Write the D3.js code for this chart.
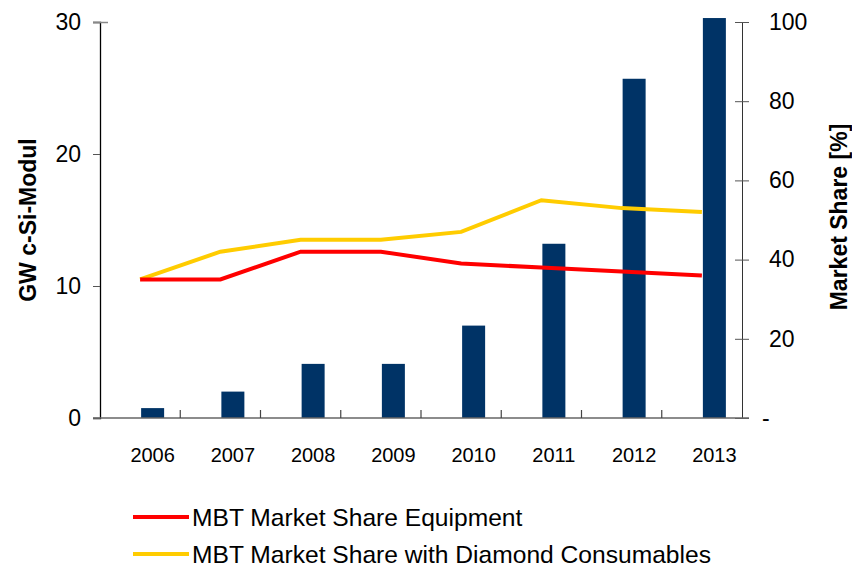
<!DOCTYPE html>
<html>
<head>
<meta charset="utf-8">
<script src="https://cdn.jsdelivr.net/npm/d3@7"></script>
<style>
  body { margin: 0; background: #fff; }
  text { font-family: Arial, "Liberation Sans", sans-serif; fill: #000; }
</style>
</head>
<body>
<script>
'use strict';

// chart data
const years = ['2006', '2007', '2008', '2009', '2010', '2011', '2012', '2013'];
const gwModules = [0.75, 2.0, 4.1, 4.1, 7.0, 13.2, 25.7, 30.3]; // GW c-Si-Modul (bars)
const shareEquipment = [35, 35, 42, 42, 39, 38, 37, 36];        // % red line
const shareDiamond = [35, 42, 45, 45, 47, 55, 53, 52];          // % yellow line
const leftTicks = [0, 10, 20, 30];
const rightTicks = [0, 20, 40, 60, 80, 100];
const legendNames = ['MBT Market Share Equipment', 'MBT Market Share with Diamond Consumables'];

(function() {

  let svgContainer = "";

  window.onload = function() {
    svgContainer = d3.select('body')
      .append('svg')
      .attr('width', 852)
      .attr('height', 567);
    drawChart();
  }

  function drawChart() {
    let left = 100, right = 742, top = 22, bottom = 418;

    // band scale for the years, linear scales for both y axes
    let xScale = d3.scaleBand()
      .domain(years)
      .range([left, right])
      .padding(0);
    let yLeft = d3.scaleLinear().domain([0, 30]).range([bottom, top]);
    let yRight = d3.scaleLinear().domain([0, 100]).range([bottom, top]);

    let bw = xScale.bandwidth();
    let barWidth = 23;

    // bars start at the band centre (empty second series slot)
    svgContainer.selectAll('.bar')
      .data(years)
      .enter()
      .append('rect')
        .attr('class', 'bar')
        .attr('x', (d) => xScale(d) + bw / 2 + 1)
        .attr('y', (d, i) => yLeft(gwModules[i]))
        .attr('width', barWidth)
        .attr('height', (d, i) => bottom - yLeft(gwModules[i]))
        .attr('fill', '#003366');

    // left axis
    let leftAxis = d3.axisLeft(yLeft).tickValues(leftTicks).tickSize(7).tickPadding(12);
    let gl = svgContainer.append('g')
      .attr('transform', 'translate(' + left + ',0)')
      .call(leftAxis);
    gl.select('.domain').attr('stroke', '#000').attr('stroke-width', 1.3);
    gl.selectAll('.tick line').attr('stroke', '#555');
    gl.selectAll('.tick text').attr('font-size', 23).attr('font-family', 'Arial, "Liberation Sans", sans-serif');
    // the top tick crosses the axis
    gl.selectAll('.tick line').filter((d) => d === 30).attr('x2', 8).attr('x1', -7).attr('stroke', '#888').attr('stroke-width', 1.5);

    // right axis, zero shown as dash
    let rightAxis = d3.axisRight(yRight)
      .tickValues(rightTicks)
      .tickSize(7)
      .tickPadding(20)
      .tickFormat((d) => d === 0 ? '-' : d);
    let gr = svgContainer.append('g')
      .attr('transform', 'translate(' + right + ',0)')
      .call(rightAxis);
    gr.select('.domain').attr('stroke', '#333').attr('stroke-width', 1);
    gr.selectAll('.tick line').attr('x1', -7).attr('stroke', '#555');
    gr.selectAll('.tick text').attr('font-size', 23).attr('font-family', 'Arial, "Liberation Sans", sans-serif');
    gr.selectAll('.tick text').filter((d) => d === 0).attr('x', 20);

    // x axis baseline with category separators pointing up
    svgContainer.append('line')
      .attr('x1', left - 7).attr('x2', right + 7)
      .attr('y1', bottom).attr('y2', bottom)
      .attr('stroke', '#666').attr('stroke-width', 1.5);
    svgContainer.selectAll('.sep')
      .data(years.slice(1))
      .enter()
      .append('line')
        .attr('x1', (d) => xScale(d)).attr('x2', (d) => xScale(d))
        .attr('y1', bottom).attr('y2', bottom - 8)
        .attr('stroke', '#444').attr('stroke-width', 1.2);

    // year labels centred under the bars
    svgContainer.selectAll('.year')
      .data(years)
      .enter()
      .append('text')
        .attr('x', (d) => xScale(d) + bw / 2 + 1 + barWidth / 2)
        .attr('y', 462)
        .attr('text-anchor', 'middle')
        .attr('font-size', 20)
        .text((d) => d);

    // market share lines on the right scale
    let line = d3.line()
      .x((d, i) => xScale(years[i]) + bw / 2)
      .y((d) => yRight(d));

    svgContainer.append('path')
      .datum(shareDiamond)
      .attr('d', line)
      .attr('fill', 'none')
      .attr('stroke', '#ffcc00')
      .attr('stroke-width', 4);

    svgContainer.append('path')
      .datum(shareEquipment)
      .attr('d', line)
      .attr('fill', 'none')
      .attr('stroke', '#ff0000')
      .attr('stroke-width', 4);

    // axis titles
    svgContainer.append('text')
      .attr('transform', 'translate(36,220) rotate(-90)')
      .attr('text-anchor', 'middle')
      .attr('font-size', 23)
      .attr('font-weight', 'bold')
      .text('GW c-Si-Modul');
    svgContainer.append('text')
      .attr('transform', 'translate(847,217) rotate(-90)')
      .attr('text-anchor', 'middle')
      .attr('font-size', 23)
      .attr('font-weight', 'bold')
      .text('Market Share [%]');

    // legend
    let legendColors = ['#ff0000', '#ffcc00'];
    let legend = svgContainer.selectAll('.legend')
      .data(legendNames)
      .enter()
      .append('g')
        .attr('transform', (d, i) => 'translate(133,' + (517 + i * 37) + ')');
    legend.append('line')
      .attr('x1', 0).attr('x2', 56)
      .attr('y1', 0).attr('y2', 0)
      .attr('stroke', (d, i) => legendColors[i])
      .attr('stroke-width', 4);
    legend.append('text')
      .attr('x', 59)
      .attr('y', 9)
      .attr('font-size', 24.6)
      .text((d) => d);
  }

})();
</script>
</body>
</html>
